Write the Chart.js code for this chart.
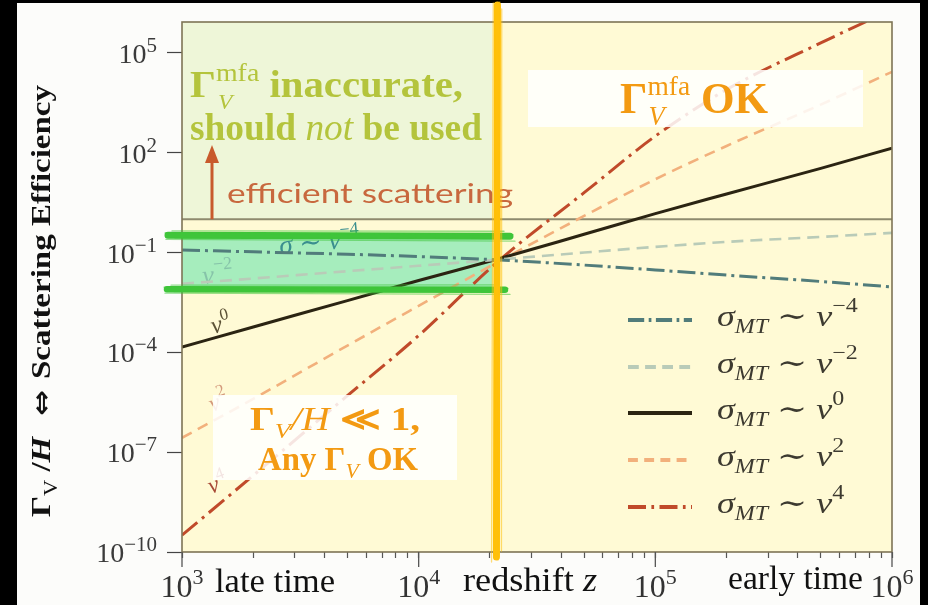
<!DOCTYPE html>
<html><head><meta charset="utf-8">
<script src="https://cdn.jsdelivr.net/npm/chart.js@4.4.1/dist/chart.umd.min.js"></script>
<style>html,body{margin:0;padding:0;background:#000;}canvas{display:block;}</style>
</head><body>
<canvas id="c" width="928" height="605"></canvas>
<script>
// ---------- data ----------
const redshiftZ = [1e3, 2e3, 5e3, 1e4, 2.2e4, 5e4, 1e5, 2e5, 5e5, 1e6];
const effVm4 = [0.12, 0.105, 0.089, 0.076, 0.060, 0.042, 0.030, 0.021, 0.0135, 0.0093];
const effVm2 = [0.0115, 0.0166, 0.0275, 0.040, 0.062, 0.10, 0.148, 0.209, 0.295, 0.39];
const effV0  = [1.45e-4, 5.8e-4, 3.6e-3, 0.0145, 0.066, 0.355, 1.48, 5.75, 34, 138];
const effV2  = [2.7e-7, 4.0e-6, 1.6e-4, 2.5e-3, 0.056, 1.26, 16, 160, 2.8e3, 2.7e4];
const effV4  = [3.2e-10, 2.0e-8, 5.0e-6, 3.2e-4, 0.060, 6.3, 316, 7.9e3, 2.0e5, 2.0e6];
const seriesExps = ['\u22124', '\u22122', '0', '2', '4'];
const yTickValues = [1e-10, 1e-7, 1e-4, 1e-1, 1e2, 1e5];
const yTickExps = ['\u221210', '\u22127', '\u22124', '\u22121', '2', '5'];
const xMajorValues = [1e3, 1e4, 1e5, 1e6];
const xMajorExps = ['3', '4', '5', '6'];
const transitionZ = 2.05e4;     // z where the mfa validity switches
const efficientLevel = 1;       // Gamma/H = 1
const bandTop = 0.355, bandBottom = 0.0079;

const SERIF = '"Liberation Serif", "DejaVu Serif", serif';
const styles = [
  {c: '#517c7b', w: 3,   dash: [18, 5, 3, 5]},
  {c: '#b9cbb8', w: 2.6, dash: [12, 7]},
  {c: '#2b2412', w: 3,   dash: []},
  {c: '#f2b07c', w: 2.6, dash: [11, 7]},
  {c: '#c04a2a', w: 3,   dash: [20, 6, 3, 6]}
];
const series = [effVm4, effVm2, effV0, effV2, effV4];

const xTicks = [];
[1e3, 1e4, 1e5].forEach(d => { for (let m = 1; m <= 9; m++) xTicks.push(m * d); });
xTicks.push(1e6);

function drawRich(ctx, segs, x, y, o) {
  o = o || {};
  ctx.save();
  const widths = segs.map(s => { ctx.font = s.f; return ctx.measureText(s.t).width; });
  let total = 0;
  segs.forEach((s, i) => { if (!s.na) total += widths[i]; });
  const sx = o.width ? o.width / total : (o.sx || 1);
  ctx.translate(x, y);
  if (o.rot) ctx.rotate(o.rot);
  ctx.scale(sx, 1);
  let cx = o.align === 'right' ? -total : (o.align === 'center' ? -total / 2 : 0);
  ctx.textAlign = 'left'; ctx.textBaseline = 'alphabetic';
  segs.forEach((s, i) => {
    ctx.font = s.f; ctx.fillStyle = s.c || o.c || '#000';
    ctx.fillText(s.t, cx + (s.dx || 0), s.dy || 0);
    if (!s.na) cx += widths[i];
  });
  ctx.restore();
}

function roughLine(ctx, x1, y1, x2, y2, color, w) {
  const len = Math.hypot(x2 - x1, y2 - y1);
  const ux = (x2 - x1) / len, uy = (y2 - y1) / len;
  const nx = -uy, ny = ux;
  ctx.save();
  ctx.strokeStyle = color; ctx.lineCap = 'round';
  ctx.lineWidth = w;
  ctx.beginPath(); ctx.moveTo(x1, y1); ctx.lineTo(x2, y2); ctx.stroke();
  ctx.lineWidth = 1.3; ctx.globalAlpha = 0.55;
  const offs = [-w / 2 - 0.8, -w / 2 + 1.2, w / 2 - 1.0, w / 2 + 0.7];
  const starts = [4, -3, 7, -2], ends = [-6, 3, -2, 5];
  offs.forEach((d, k) => {
    const d2 = d + (k % 2 ? 0.7 : -0.7);
    ctx.beginPath();
    ctx.moveTo(x1 + nx * d + ux * starts[k], y1 + ny * d + uy * starts[k]);
    ctx.lineTo(x2 + nx * d2 + ux * ends[k], y2 + ny * d2 + uy * ends[k]);
    ctx.stroke();
  });
  ctx.restore();
}

const decor = {
  id: 'decor',
  beforeDraw(chart) {
    const {ctx, width, height} = chart;
    ctx.save();
    ctx.fillStyle = '#fcfcfa'; ctx.fillRect(0, 0, width, height);
    ctx.fillStyle = '#000';
    ctx.fillRect(0, 0, 17, height);
    ctx.fillRect(0, 0, width, 3);
    ctx.fillRect(920, 0, width - 920, height);
    ctx.restore();
  },
  beforeDatasetsDraw(chart) {
    const {ctx, chartArea: a, scales: {x, y}} = chart;
    const xr = x.getPixelForValue(transitionZ);
    const y1 = y.getPixelForValue(efficientLevel);
    ctx.save();
    ctx.fillStyle = '#fffad5'; ctx.fillRect(a.left, a.top, a.width, a.height);
    ctx.fillStyle = '#eef6d8'; ctx.fillRect(a.left, a.top, xr - a.left, y1 - a.top);
    const yb1 = y.getPixelForValue(bandTop), yb2 = y.getPixelForValue(bandBottom);
    ctx.fillStyle = '#a6edbd'; ctx.fillRect(a.left, yb1, xr - a.left, yb2 - yb1);
    ctx.strokeStyle = '#8e8a6e'; ctx.lineWidth = 2;
    ctx.beginPath(); ctx.moveTo(a.left, y1); ctx.lineTo(a.right, y1); ctx.stroke();
    // in-plot curve labels
    drawRich(ctx, [{t: 'v', f: 'italic 25px ' + SERIF}, {t: '0', f: '17px ' + SERIF, dy: -11}], 213, 334, {rot: -0.25, c: '#5c5236'});
    drawRich(ctx, [{t: 'v', f: 'italic 26px ' + SERIF}, {t: '\u22122', f: '18px ' + SERIF, dy: -13}], 203, 284, {rot: -0.08, c: '#86c3a9'});
    drawRich(ctx, [{t: '\u03c3 \u223c v', f: 'italic 27px ' + SERIF}, {t: '\u22124', f: '18px ' + SERIF, dy: -13}], 280, 254, {rot: -0.09, c: '#3a8e8e'});
    drawRich(ctx, [{t: 'v', f: 'italic 24px ' + SERIF}, {t: '2', f: '17px ' + SERIF, dy: -12}], 212, 412, {rot: -0.35, c: '#d49a7c'});
    drawRich(ctx, [{t: 'v', f: 'italic 24px ' + SERIF}, {t: '4', f: '17px ' + SERIF, dy: -11}], 211, 494, {rot: -0.35, c: '#a84a36'});
    ctx.restore();
  },
  afterDatasetsDraw(chart) {
    const {ctx, chartArea: a, scales: {x, y}} = chart;
    ctx.save();
    // white boxes
    ctx.fillStyle = 'rgba(255,255,255,0.86)';
    ctx.fillRect(528, 70, 335, 57);
    ctx.fillRect(213, 395, 244, 85);
    const OR = '#f39a12';
    drawRich(ctx, [
      {t: '\u0393', f: 'bold 44px ' + SERIF},
      {t: 'V', f: 'italic 27px ' + SERIF, dy: 12, dx: 1, na: true},
      {t: 'mfa', f: '28px ' + SERIF, dy: -18},
      {t: ' OK', f: 'bold 44px ' + SERIF}], 620, 113, {c: OR, width: 148});
    drawRich(ctx, [
      {t: '\u0393', f: 'bold 33px ' + SERIF},
      {t: 'V', f: 'italic 22px ' + SERIF, dy: 8},
      {t: '/H', f: 'italic 33px ' + SERIF},
      {t: ' \u226a 1,', f: 'bold 33px ' + SERIF}], 250, 430, {c: OR, width: 170});
    drawRich(ctx, [
      {t: 'Any ', f: 'bold 33px ' + SERIF},
      {t: '\u0393', f: 'bold 33px ' + SERIF},
      {t: 'V', f: 'italic 22px ' + SERIF, dy: 8},
      {t: ' OK', f: 'bold 33px ' + SERIF}], 258, 470, {c: OR, width: 160});
    // mfa inaccurate text
    const GR = '#b4c43c';
    drawRich(ctx, [
      {t: '\u0393', f: 'bold 38px ' + SERIF},
      {t: 'V', f: 'italic 22px ' + SERIF, dy: 12, dx: 2, na: true},
      {t: 'mfa', f: '26px ' + SERIF, dy: -16},
      {t: ' inaccurate,', f: 'bold 38px ' + SERIF}], 190, 97, {c: GR, width: 273});
    drawRich(ctx, [
      {t: 'should ', f: 'bold 37px ' + SERIF},
      {t: 'not', f: 'italic 37px ' + SERIF},
      {t: ' be used', f: 'bold 37px ' + SERIF}], 190, 140, {c: GR, width: 292});
    // arrow + efficient scattering
    const y1 = y.getPixelForValue(efficientLevel);
    ctx.strokeStyle = '#c85a2c'; ctx.fillStyle = '#c85a2c'; ctx.lineWidth = 3;
    ctx.beginPath(); ctx.moveTo(212, y1); ctx.lineTo(212, 160); ctx.stroke();
    ctx.beginPath(); ctx.moveTo(212, 145); ctx.lineTo(219, 163); ctx.lineTo(205, 163); ctx.closePath(); ctx.fill();
    drawRich(ctx, [{t: 'efficient scattering', f: '27px Lato, "Open Sans", sans-serif'}], 227, 203, {c: '#c8683e', width: 286});
    // legend
    const rows = [320, 367, 413, 460, 507];
    styles.forEach((s, i) => {
      ctx.save();
      ctx.strokeStyle = s.c; ctx.lineWidth = 4; ctx.setLineDash(s.dash.length ? s.dash.map(v => v * 0.9) : []);
      ctx.beginPath(); ctx.moveTo(628, rows[i]); ctx.lineTo(692, rows[i]); ctx.stroke();
      ctx.restore();
      drawRich(ctx, [
        {t: '\u03c3', f: 'italic 30px ' + SERIF},
        {t: 'MT', f: 'italic 20px ' + SERIF, dy: 7},
        {t: ' \u223c ', f: '30px ' + SERIF},
        {t: 'v', f: 'italic 30px ' + SERIF},
        {t: seriesExps[i], f: '20px ' + SERIF, dy: -14}], 717, rows[i] + 6, {c: '#3d3a30', sx: 1.2});
    });
    // frame
    ctx.strokeStyle = '#7d7455'; ctx.lineWidth = 1.6;
    ctx.strokeRect(a.left, a.top, a.width, a.height);
    // green marker strokes
    roughLine(ctx, 168, y.getPixelForValue(bandTop) + 1, 510, y.getPixelForValue(bandTop) + 2, '#3fc53a', 7);
    roughLine(ctx, 167, y.getPixelForValue(bandBottom), 505, y.getPixelForValue(bandBottom) + 0.5, '#3fc53a', 6.5);
    // orange hand-drawn vertical line
    const xo = x.getPixelForValue(transitionZ) + 5;
    roughLine(ctx, xo, 5, xo - 1, 557, '#ffc00a', 7);
    ctx.restore();
  },
  afterDraw(chart) {
    const {ctx, chartArea: a, scales: {x, y}} = chart;
    ctx.save();
    // major x tick extension
    ctx.strokeStyle = '#555'; ctx.lineWidth = 1.3;
    xMajorValues.forEach(v => {
      const px = x.getPixelForValue(v);
      ctx.beginPath(); ctx.moveTo(px, a.bottom); ctx.lineTo(px, a.bottom + 15); ctx.stroke();
    });
    yTickValues.forEach((v, i) => {
      const py = y.getPixelForValue(v);
      drawRich(ctx, [{t: '10', f: '28px ' + SERIF}, {t: yTickExps[i], f: '21px ' + SERIF, dy: -11}], 157, py + 10, {align: 'right', c: '#3b3b3b'});
    });
    xMajorValues.forEach((v, i) => {
      const px = x.getPixelForValue(v);
      drawRich(ctx, [{t: '10', f: '32px ' + SERIF}, {t: xMajorExps[i], f: '22px ' + SERIF, dy: -13}], px, 597, {align: 'center', c: '#333'});
    });
    drawRich(ctx, [{t: 'late time', f: '34px ' + SERIF}], 215, 592, {c: '#111', width: 120});
    drawRich(ctx, [{t: 'redshift ', f: '34px ' + SERIF}, {t: 'z', f: 'italic 34px ' + SERIF}], 463, 591, {c: '#111', width: 134});
    drawRich(ctx, [{t: 'early time', f: '34px ' + SERIF}], 728, 589, {c: '#111', width: 135});
    // y title
    drawRich(ctx, [
      {t: '\u0393', f: 'bold 28px ' + SERIF},
      {t: 'V', f: '19px ' + SERIF, dy: 7},
      {t: ' /', f: 'bold 28px ' + SERIF},
      {t: 'H', f: 'italic bold 28px ' + SERIF},
      {t: '  \u21d4 ', f: 'bold 26px "DejaVu Sans", sans-serif'},
      {t: 'Scattering Efficiency', f: 'bold 28px ' + SERIF}], 50, 517, {rot: -Math.PI / 2, c: '#111', width: 432});
    ctx.restore();
  }
};

const datasets = series.map((vals, i) => ({
  label: 'sigma_MT ~ v^' + seriesExps[i],
  data: redshiftZ.map((z, k) => ({x: z, y: vals[k]})),
  borderColor: styles[i].c,
  borderWidth: styles[i].w,
  borderDash: styles[i].dash,
  pointRadius: 0,
  fill: false,
  cubicInterpolationMode: 'monotone'
}));

new Chart(document.getElementById('c'), {
  type: 'line',
  data: {datasets},
  options: {
    responsive: false, animation: false, devicePixelRatio: 1,
    layout: {padding: {left: 0, right: 36, top: 22, bottom: 0}},
    plugins: {legend: {display: false}, tooltip: {enabled: false}},
    scales: {
      x: {
        type: 'logarithmic', min: 1e3, max: 1e6,
        afterBuildTicks: s => { s.ticks = xTicks.map(v => ({value: v})); },
        afterFit: s => { s.height = 53; },
        ticks: {display: false, autoSkip: false},
        grid: {drawOnChartArea: false, drawTicks: true, tickLength: 6, tickColor: '#555', tickWidth: 1.2},
        border: {display: false}
      },
      y: {
        type: 'logarithmic', min: 1e-10, max: 8.5e5,
        afterBuildTicks: s => { s.ticks = yTickValues.map(v => ({value: v})); },
        afterFit: s => { s.width = 182; },
        ticks: {display: false, autoSkip: false},
        grid: {drawOnChartArea: false, drawTicks: true, tickLength: 15, tickColor: '#444', tickWidth: 1.2},
        border: {display: false}
      }
    }
  },
  plugins: [decor]
});
</script>
</body></html>
